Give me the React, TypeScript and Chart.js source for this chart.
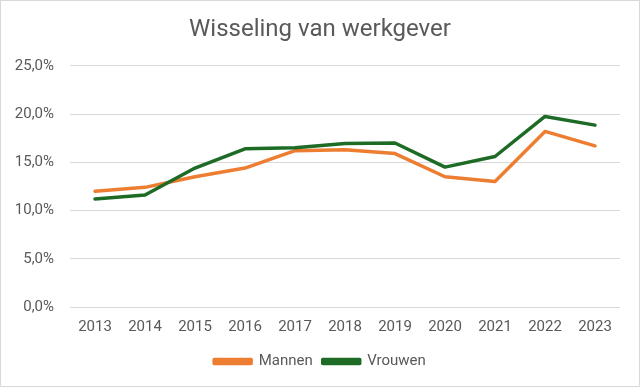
import React, { useEffect, useRef } from "react";
import { Chart, registerables } from "chart.js";

Chart.register(...registerables);

const years = ["2013", "2014", "2015", "2016", "2017", "2018", "2019", "2020", "2021", "2022", "2023"];
const mannen = [12.0, 12.4, 13.5, 14.4, 16.2, 16.3, 15.9, 13.5, 13.0, 18.2, 16.7];
const vrouwen = [11.2, 11.6, 14.4, 16.4, 16.5, 16.95, 17.0, 14.5, 15.6, 19.75, 18.85];
const yTicks = [0, 5, 10, 15, 20, 25];
const title = "Wisseling van werkgever";
const seriesNames = ["Mannen", "Vrouwen"];

const FONT = "Roboto, 'Open Sans', sans-serif";
const TEXT = "#595959";

export default function App() {
  const ref = useRef<HTMLCanvasElement>(null);
  useEffect(() => {
    document.body.style.margin = "0";
    const ctx = ref.current!;
    const chart = new Chart(ctx, {
      type: "line",
      data: {
        labels: years,
        datasets: [
          {
            label: seriesNames[0],
            data: mannen,
            borderColor: "#ED7D31",
            backgroundColor: "#ED7D31",
            borderWidth: 3.5,
            pointRadius: 0,
            tension: 0,
            borderJoinStyle: "round",
            borderCapStyle: "round",
            order: 1,
          },
          {
            label: seriesNames[1],
            data: vrouwen,
            borderColor: "#1E6B26",
            backgroundColor: "#1E6B26",
            borderWidth: 3.5,
            pointRadius: 0,
            tension: 0,
            borderJoinStyle: "round",
            borderCapStyle: "round",
            order: 0,
          },
        ],
      },
      options: {
        animation: false,
        responsive: true,
        maintainAspectRatio: false,
        layout: { padding: { left: 0, right: 0, top: 0, bottom: 8 } },
        plugins: {
          title: {
            display: true,
            text: title,
            color: TEXT,
            font: { family: FONT, size: 24, weight: "normal" },
            padding: { top: 16, bottom: 21 },
          },
          legend: {
            display: true,
            position: "bottom",
            labels: {
              boxWidth: 37,
              boxHeight: 4,
              color: TEXT,
              font: { family: FONT, size: 15 },
              padding: 10,
              sort: (a: any, b: any) => a.datasetIndex - b.datasetIndex,
            },
          },
          tooltip: { enabled: false },
        },
        scales: {
          x: {
            offset: true,
            grid: { display: false, drawTicks: false, offset: true },
            border: { display: false },
            ticks: { color: TEXT, font: { family: FONT, size: 15 }, padding: 11, maxRotation: 0 },
            afterFit: (s: any) => { s.height = 37; },
          },
          y: {
            min: 0,
            max: 25,
            afterBuildTicks: (s: any) => { s.ticks = yTicks.map((v) => ({ value: v })); },
            grid: { color: "#D9D9D9", drawTicks: false, lineWidth: 1 },
            border: { display: false },
            ticks: {
              color: TEXT,
              font: { family: FONT, size: 15 },
              padding: 16,
              callback: (v: any) => Number(v).toFixed(1).replace(".", ",") + "%",
            },
            afterFit: (s: any) => { s.width = 70; },
          },
          yRight: {
            position: "right",
            min: 0,
            max: 25,
            grid: { display: false, drawTicks: false },
            border: { display: false },
            ticks: { display: false },
            afterFit: (s: any) => { s.width = 20; },
          },
        },
      },
    });
    return () => chart.destroy();
  }, []);
  return (
    <div style={{ position: "fixed", left: 0, top: 0, width: 640, height: 387, background: "#fff" }}>
      <canvas ref={ref} />
      <div
        style={{
          position: "absolute",
          left: 0,
          top: 0,
          width: 640,
          height: 387,
          boxSizing: "border-box",
          border: "1px solid #D9D9D9",
          pointerEvents: "none",
        }}
      />
    </div>
  );
}
